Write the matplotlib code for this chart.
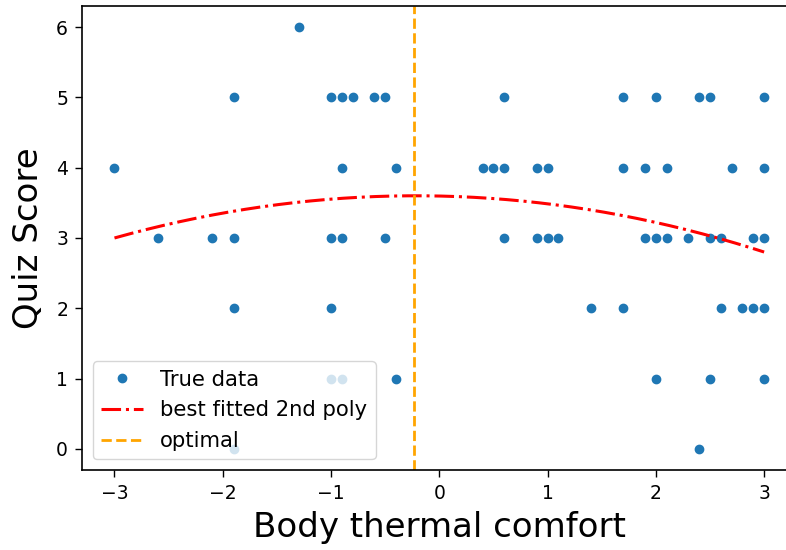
import matplotlib
matplotlib.use("Agg")
import matplotlib.pyplot as plt
import numpy as np

# Observed data (Body thermal comfort, Quiz Score)
comfort = [
    -1.3,
    -1.9, -1.0, -0.9, -0.8, -0.6, -0.5, 0.6, 1.7, 2.0, 2.4, 2.5, 3.0,
    -3.0, -0.9, -0.4, 0.4, 0.5, 0.6, 0.9, 1.0, 1.7, 1.9, 2.1, 2.7, 3.0,
    -2.6, -2.1, -1.9, -1.0, -0.9, -0.5, 0.6, 0.9, 1.0, 1.1, 1.9, 2.0, 2.1, 2.3, 2.5, 2.6, 2.9, 3.0,
    -1.9, -1.0, 1.4, 1.7, 2.6, 2.8, 2.9, 3.0,
    -1.0, -0.9, -0.4, 2.0, 2.5, 3.0,
    -1.9, 2.4,
]
score = [
    6,
    5, 5, 5, 5, 5, 5, 5, 5, 5, 5, 5, 5,
    4, 4, 4, 4, 4, 4, 4, 4, 4, 4, 4, 4, 4,
    3, 3, 3, 3, 3, 3, 3, 3, 3, 3, 3, 3, 3, 3, 3, 3, 3, 3,
    2, 2, 2, 2, 2, 2, 2, 2,
    1, 1, 1, 1, 1, 1,
    0, 0,
]

# Fitted 2nd-order polynomial coefficients (a*x^2 + b*x + c)
poly_coef = [-0.0774, -0.0333, 3.597]
fit_range = [-3.0, 3.0]
optimal_x = -0.23

fig = plt.figure(figsize=(7.86, 5.5), dpi=100)
ax = fig.add_axes([82 / 786, 1 - 470 / 550, (796.6 - 82) / 786, (470 - 6) / 550])

ax.plot(comfort, score, 'o', color='#1f77b4', markersize=6, label='True data')
xs = np.linspace(fit_range[0], fit_range[1], 200)
ax.plot(xs, np.polyval(poly_coef, xs), '-.', color='red', linewidth=2.2,
        label='best fitted 2nd poly')
ax.axvline(optimal_x, color='orange', linestyle='--', linewidth=2, label='optimal')

ax.set_xlim(-3.3, 3.3)
ax.set_ylim(-0.3, 6.3)
ax.set_xticks([-3, -2, -1, 0, 1, 2, 3])
ax.set_yticks([0, 1, 2, 3, 4, 5, 6])
ax.tick_params(labelsize=13.5, length=5, width=1, pad=5)
for s in ax.spines.values():
    s.set_linewidth(1.2)
ax.set_xlabel('Body thermal comfort', fontsize=24.5, labelpad=6)
ax.set_ylabel('Quiz Score', fontsize=24.5, labelpad=8)
ax.legend(loc='lower left', fontsize=15.2)

fig.savefig('out.png', dpi=100)
